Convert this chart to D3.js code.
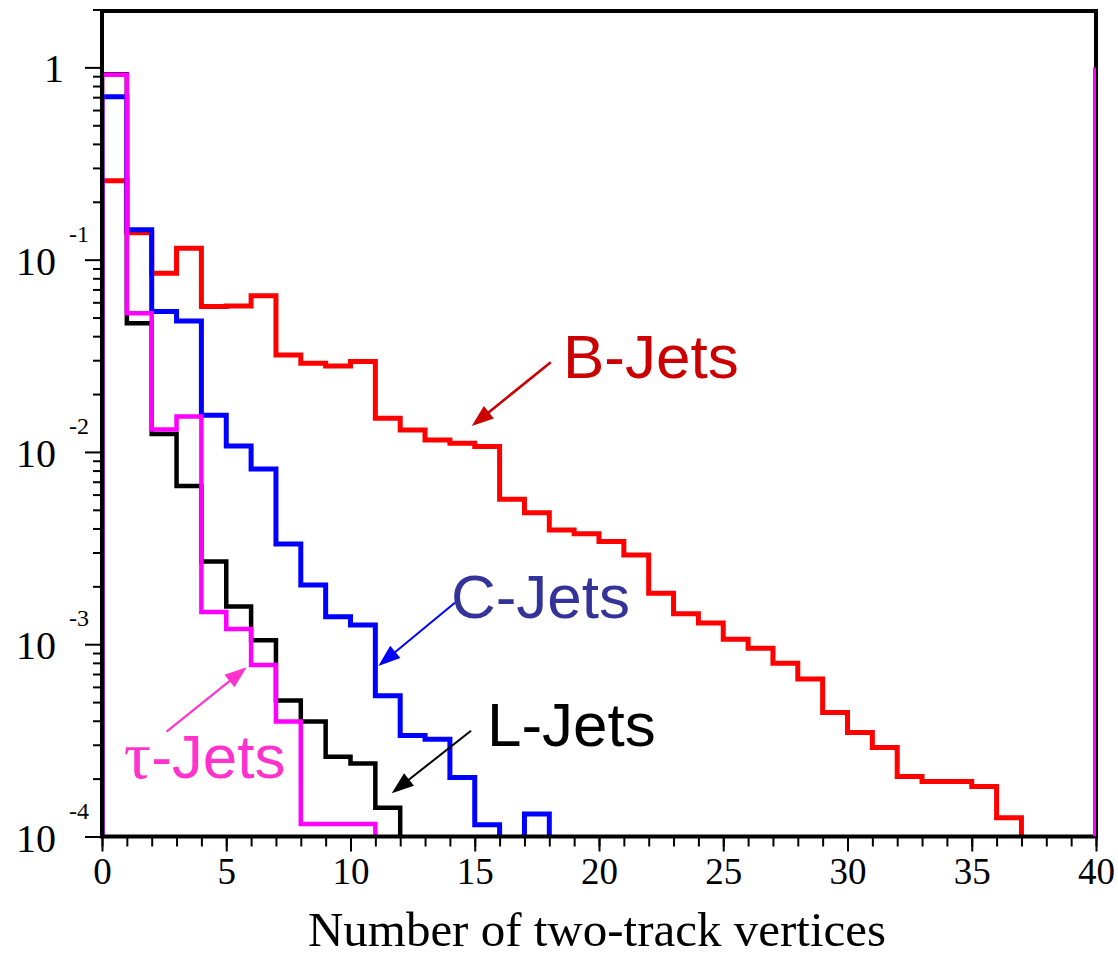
<!DOCTYPE html>
<html>
<head>
<meta charset="utf-8">
<script src="https://cdn.jsdelivr.net/npm/d3@7"></script>
<style>
  html, body { margin: 0; padding: 0; background: #fff; }
  svg { display: block; }
</style>
</head>
<body>
<svg id="chart" width="1118" height="956"></svg>
<script>
// Fraction of jets per number of two-track vertices (unit bins 0..40)
const binCount = 40;
const bJets = [0.257, 0.138, 0.085, 0.1146, 0.057, 0.0574, 0.065, 0.0319, 0.0289, 0.028,
  0.0295, 0.01497, 0.01301, 0.01154, 0.0111, 0.01066, 0.00568, 0.00483, 0.00393, 0.00375,
  0.00342, 0.00291, 0.00184, 0.00144, 0.00129, 0.00106, 0.000953, 0.000796, 0.00066, 0.000441,
  0.000347, 0.00029, 0.000205, 0.000193, 0.000193, 0.000182, 0.000125, 0, 0, 0];
const cJets = [0.704, 0.143, 0.0537, 0.048, 0.0155, 0.01075, 0.00816, 0.00332, 0.00203, 0.00139,
  0.00126, 0.00054, 0.000335, 0.00032, 0.000203, 0.000115, 0, 0.000131];
const lJets = [0.92, 0.0467, 0.0124, 0.00665, 0.00269, 0.00157, 0.00105, 0.000509, 0.000396, 0.00026,
  0.00024, 0.000141];
const tauJets = [0.916, 0.0526, 0.0131, 0.0153, 0.00147, 0.0012, 0.00078, 0.000396, 0.000116, 0.000116,
  0.000116];
// tau histogram edge drawn at the upper end of the range
const tauEdgeValue = 1.0;

const xMajorTicks = [0, 5, 10, 15, 20, 25, 30, 35, 40];
const yDecades = [0, -1, -2, -3, -4];
const yMin = 1e-4, yMax = 2;

// Annotation labels and arrows, in data coordinates
const labels = [
  { text: "B-Jets", x: 18.55, y: 0.02426, color: "#cc0000" },
  { text: "C-Jets", x: 14.04, y: 0.00137, color: "#333399" },
  { text: "L-Jets", x: 15.49, y: 0.000296, color: "#000000" },
  { text: "-Jets", tau: "τ", x: 0.88, y: 0.0002026, color: "#ff33cc" }
];
const arrows = [
  { from: [18.06, 0.02927], to: [14.88, 0.013647], color: "#cc0000", width: 2.6 },
  { from: [14.2, 0.001645], to: [11.12, 0.000771], color: "#0000ff", width: 2 },
  { from: [14.85, 0.000355], to: [11.66, 0.000168], color: "#000000", width: 2 },
  { from: [2.6, 0.000351], to: [5.82, 0.000759], color: "#ff33cc", width: 2.2 }
];

const svg = d3.select("#chart");
const x = d3.scaleLinear().domain([0, binCount]).range([102, 1096]);
const y = d3.scaleLog().domain([yMin, yMax]).range([836.5, 9.5]);

svg.append("defs").append("clipPath").attr("id", "plot-clip")
  .append("rect")
  .attr("x", x(0)).attr("y", y(yMax))
  .attr("width", x(binCount) - x(0)).attr("height", y(yMin) - y(yMax));

// Histogram outline: one sub-path per run of non-empty bins
function stepPath(vals) {
  const line = d3.line().x(d => x(d[0])).y(d => y(d[1]));
  let out = "";
  let run = null;
  vals.forEach((v, i) => {
    if (v > 0) {
      if (!run) run = [[i, yMin]];
      run.push([i, v], [i + 1, v]);
    } else if (run) {
      run.push([i, yMin]);
      out += line(run);
      run = null;
    }
  });
  if (run) { run.push([vals.length, yMin]); out += line(run); }
  return out;
}

const hist = svg.append("g").attr("clip-path", "url(#plot-clip)");
const series = [
  { vals: bJets, color: "#ff0000", width: 5 },
  { vals: lJets, color: "#000000", width: 4.5 },
  { vals: cJets, color: "#0000ff", width: 5 },
  { vals: tauJets, color: "#ff00ff", width: 4.5 }
];
series.forEach(s => {
  hist.append("path")
    .attr("d", stepPath(s.vals))
    .attr("fill", "none")
    .attr("stroke", s.color)
    .attr("stroke-width", s.width)
    .attr("stroke-linejoin", "miter")
    .attr("stroke-linecap", "butt");
});

// X axis ticks
const xMinor = svg.append("g").attr("transform", `translate(0,${y(yMin)})`)
  .call(d3.axisBottom(x).tickValues(d3.range(0, binCount + 1)).tickSize(10).tickFormat(""));
const xMajor = svg.append("g").attr("transform", `translate(0,${y(yMin)})`)
  .call(d3.axisBottom(x).tickValues(xMajorTicks).tickSize(15).tickFormat(d3.format("d")));
[xMinor, xMajor].forEach(g => {
  g.select(".domain").remove();
  g.selectAll(".tick line").attr("stroke", "#000").attr("stroke-width", 2);
});
xMajor.selectAll(".tick text")
  .attr("y", 47).attr("dy", 0)
  .attr("font-family", "'Liberation Serif', 'Times New Roman', serif")
  .attr("font-size", 37).attr("fill", "#000");

// Y axis ticks (log)
const minorVals = [2];
yDecades.slice(0, -1).forEach(e => {
  for (let m = 2; m <= 9; m++) minorVals.push(m * Math.pow(10, e - 1));
});
const yMinorAxis = svg.append("g").attr("transform", `translate(${x(0)},0)`)
  .call(d3.axisLeft(y).tickValues(minorVals).tickSize(9).tickFormat(""));
const yMajorAxis = svg.append("g").attr("transform", `translate(${x(0)},0)`)
  .call(d3.axisLeft(y).tickValues(yDecades.map(e => Math.pow(10, e))).tickSize(17).tickFormat(""));
[yMinorAxis, yMajorAxis].forEach(g => {
  g.select(".domain").remove();
  g.selectAll(".tick line").attr("stroke", "#000").attr("stroke-width", 2);
});

// Y tick labels: "1" and 10 with raised exponent
const serif = "'Liberation Serif', 'Times New Roman', serif";
const yLab = svg.append("g").attr("font-family", serif).attr("fill", "#000");
yDecades.forEach(e => {
  const ty = y(Math.pow(10, e));
  if (e === 0) {
    yLab.append("text").attr("x", 64).attr("y", ty + 15)
      .attr("text-anchor", "end").attr("font-size", 40).text("1");
  } else {
    yLab.append("text").attr("x", 56).attr("y", ty + 15)
      .attr("text-anchor", "end").attr("font-size", 40).text("10");
    yLab.append("text").attr("x", 69).attr("y", ty - 18)
      .attr("text-anchor", "start").attr("font-size", 24).text(String(e));
  }
});

// Frame
svg.append("rect")
  .attr("x", x(0)).attr("y", y(yMax) + 1.5)
  .attr("width", x(binCount) - x(0)).attr("height", y(yMin) - y(yMax) - 1.5)
  .attr("fill", "none").attr("stroke", "#000").attr("stroke-width", 4);

// tau edge line at the right end of the range
svg.append("g").attr("clip-path", "url(#plot-clip)")
  .append("line")
  .attr("x1", x(binCount)).attr("x2", x(binCount))
  .attr("y1", y(yMin)).attr("y2", y(tauEdgeValue))
  .attr("stroke", "#ff00ff").attr("stroke-width", 6);

// Axis title
svg.append("text")
  .attr("x", 597).attr("y", 946)
  .attr("text-anchor", "middle")
  .attr("font-family", serif)
  .attr("font-size", 49)
  .attr("fill", "#000")
  .text("Number of two-track vertices");

// Arrows
arrows.forEach(a => {
  const x1 = x(a.from[0]), y1 = y(a.from[1]);
  const x2 = x(a.to[0]), y2 = y(a.to[1]);
  const ang = Math.atan2(y2 - y1, x2 - x1);
  const len = 22, half = 8;
  const bx = x2 - len * Math.cos(ang), by = y2 - len * Math.sin(ang);
  svg.append("line")
    .attr("x1", x1).attr("y1", y1).attr("x2", bx + 2 * Math.cos(ang)).attr("y2", by + 2 * Math.sin(ang))
    .attr("stroke", a.color).attr("stroke-width", a.width);
  const px = -Math.sin(ang), py = Math.cos(ang);
  svg.append("path")
    .attr("d", `M${x2},${y2}L${bx + half * px},${by + half * py}L${bx - half * px},${by - half * py}Z`)
    .attr("fill", a.color);
});

// Labels
const sans = "'Liberation Sans', Arial, sans-serif";
labels.forEach(l => {
  const t = svg.append("text")
    .attr("x", x(l.x)).attr("y", y(l.y))
    .attr("font-family", sans).attr("font-size", 62)
    .attr("fill", l.color);
  if (l.tau) {
    t.append("tspan").attr("font-family", serif).attr("font-size", 68).text(l.tau);
    t.append("tspan").text(l.text);
  } else {
    t.text(l.text);
  }
});
</script>
</body>
</html>
